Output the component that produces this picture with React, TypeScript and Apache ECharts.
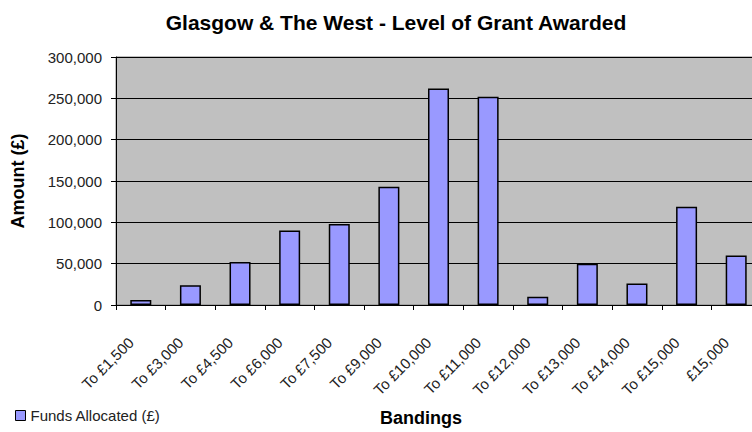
import React, { useEffect, useRef } from "react";
import * as echarts from "echarts";

const categories = [
  "To £1,500", "To £3,000", "To £4,500", "To £6,000", "To £7,500", "To £9,000",
  "To £10,000", "To £11,000", "To £12,000", "To £13,000", "To £14,000", "To £15,000", "£15,000",
];
const fundsAllocated = [6000, 24000, 52000, 90000, 98000, 143000, 262000, 252000, 10000, 50000, 26000, 119000, 60000];
const seriesName = "Funds Allocated (£)";
const FONT = "'Liberation Sans', Arial, sans-serif";

export default function App() {
  const ref = useRef<HTMLDivElement>(null);
  useEffect(() => {
    document.body.style.margin = "0";
    const chart = echarts.init(ref.current!, null, { renderer: "svg" });
    chart.setOption({
      animation: false,
      backgroundColor: "#ffffff",
      textStyle: { fontFamily: FONT },
      title: [
        {
          text: "Glasgow & The West - Level of Grant Awarded",
          left: 391, top: 7, textAlign: "center",
          textStyle: { fontFamily: FONT, fontSize: 21, fontWeight: "bold", color: "#000" },
        },
        {
          text: "Bandings",
          left: 416, top: 404, textAlign: "center",
          textStyle: { fontFamily: FONT, fontSize: 18, fontWeight: "bold", color: "#000" },
        },
      ],
      legend: {
        left: 10, top: 403, itemWidth: 10, itemHeight: 10, itemGap: 6,
        icon: "rect",
        textStyle: { fontFamily: FONT, fontSize: 15, color: "#222" },
        data: [{ name: seriesName, itemStyle: { borderColor: "#000", borderWidth: 1 } }],
      },
      grid: {
        left: 116, top: 57, width: 645, height: 248, show: true,
        containLabel: false, outerBoundsMode: "none",
        backgroundColor: "#C0C0C0", borderColor: "#808080", borderWidth: 1,
      },
      xAxis: {
        type: "category",
        data: categories,
        boundaryGap: true,
        axisLine: { lineStyle: { color: "#000", width: 1 } },
        axisTick: { show: true, length: 5, lineStyle: { color: "#000" } },
        axisLabel: {
          rotate: 45, fontSize: 15, color: "#222", fontFamily: FONT, margin: 25, interval: 0,
          padding: [0, 14, 0, 0],
        },
      },
      yAxis: {
        type: "value",
        min: 0, max: 300000, interval: 50000,
        name: "Amount (£)",
        nameLocation: "middle", nameRotate: 90, nameGap: 89,
        nameTextStyle: { fontFamily: FONT, fontSize: 18, fontWeight: "bold", color: "#000" },
        axisLine: { show: true, lineStyle: { color: "#000" } },
        axisTick: { show: true, length: 5, lineStyle: { color: "#000" } },
        splitLine: { show: true, lineStyle: { color: "#000", width: 1 } },
        axisLabel: {
          fontSize: 15, color: "#222", fontFamily: FONT, margin: 14,
          formatter: (v: number) => v.toLocaleString("en-GB"),
        },
      },
      series: [
        {
          name: seriesName,
          type: "bar",
          data: fundsAllocated,
          barWidth: 21,
          itemStyle: { color: "#9999FF", borderColor: "#000", borderWidth: 1.5 },
        },
      ],
    });
    return () => chart.dispose();
  }, []);
  return <div ref={ref} style={{ width: 752, height: 432, overflow: "hidden" }} />;
}
